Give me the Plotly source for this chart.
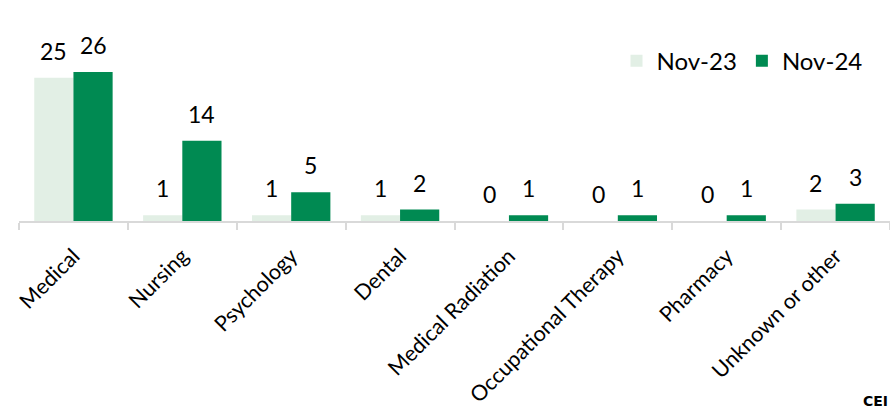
import plotly.graph_objects as go

categories = ["Medical", "Nursing", "Psychology", "Dental", "Medical Radiation",
              "Occupational Therapy", "Pharmacy", "Unknown or other"]
nov23 = [25, 1, 1, 1, 0, 0, 0, 2]
nov24 = [26, 14, 5, 2, 1, 1, 1, 3]
series_names = ["Nov-23", "Nov-24"]
colors = ["#E2EFE5", "#008A52"]

FONT = "Lato, Open Sans, sans-serif"

fig = go.Figure()
for name, vals, col in zip(series_names, [nov23, nov24], colors):
    fig.add_trace(go.Bar(x=categories, y=vals, name=name, marker_color=col,
                         marker_line_width=0))

W, H = 890, 412
ml, mr, mt, mb = 19, 0, 48.5, 191
plot_w = W - ml - mr
cat_w = plot_w / len(categories)
bargap = 0.28
bar_w = cat_w * (1 - bargap) / 2

annotations = []
for vals, sign in [(nov23, -1), (nov24, 1)]:
    for c, v in zip(categories, vals):
        annotations.append(dict(x=c, y=v, xref="x", yref="y", text=str(v),
                                showarrow=False, xshift=sign * bar_w / 2,
                                yanchor="bottom", yshift=11,
                                font=dict(size=23, color="#000000", family=FONT)))
annotations.append(dict(x=1.0, y=0, xref="paper", yref="paper", yanchor="bottom",
                        xanchor="right", xshift=0, yshift=-(mb - 1),
                        text="<b>CEI</b>", showarrow=False,
                        font=dict(size=14, color="#000000", family="DejaVu Sans")))

fig.update_layout(
    width=W, height=H,
    margin=dict(l=ml, r=mr, t=mt, b=mb, autoexpand=False),
    paper_bgcolor="white", plot_bgcolor="white",
    barmode="group", bargap=bargap, bargroupgap=0,
    font=dict(family=FONT, color="#000000"),
    showlegend=True,
    legend=dict(orientation="h", x=0.686, y=0.93, xanchor="left", yanchor="middle",
                font=dict(size=24, family=FONT), itemwidth=30,
                bgcolor="rgba(0,0,0,0)", traceorder="normal"),
    xaxis=dict(tickangle=-45, tickfont=dict(size=21.5, family=FONT, color="#000000"),
               showline=True, linecolor="#D9D9D9", linewidth=2,
               ticks="outside", tickson="boundaries", ticklen=7, tickcolor="#D9D9D9",
               tickwidth=2, showgrid=False, range=[-0.5, 7.5],
               ticklabelstandoff=12),
    yaxis=dict(visible=False, range=[0, 30], showgrid=False, zeroline=False),
    annotations=annotations,
)

fig.write_html("out.html")
